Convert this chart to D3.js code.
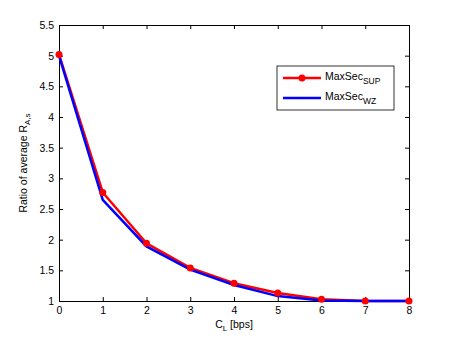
<!DOCTYPE html>
<html>
<head>
<meta charset="utf-8">
<script src="https://cdn.jsdelivr.net/npm/d3@7"></script>
<style>
    body { margin: 0; background: #fff; }
    svg text { font-family: "Liberation Sans", Arial, sans-serif; font-size: 10.5px; fill: #000; }
</style>
</head>
<body>
<div id="chart"></div>
<script>
const xValues = [0, 1, 2, 3, 4, 5, 6, 7, 8];
const supValues = [5.02, 2.77, 1.94, 1.54, 1.29, 1.13, 1.03, 1.0, 1.0];
const wzValues = [5.0, 2.65, 1.89, 1.51, 1.26, 1.08, 1.01, 1.0, 1.0];
const xTicks = [0, 1, 2, 3, 4, 5, 6, 7, 8];
const yTicks = [1, 1.5, 2, 2.5, 3, 3.5, 4, 4.5, 5, 5.5];

const margin = { top: 25, right: 43, bottom: 39, left: 59 };
const width = 452 - margin.left - margin.right;
const height = 340 - margin.top - margin.bottom;

const svg = d3.select("#chart")
    .append("svg")
    .attr("width", 452)
    .attr("height", 340)
    .append("g")
    .attr("transform", `translate(${margin.left},${margin.top})`);

const xScale = d3.scaleLinear().domain([0, 8]).range([0, width]);
const yScale = d3.scaleLinear().domain([1, 5.5]).range([height, 0]);

// axes with inward ticks, MATLAB style
function styleAxis(g) {
    g.select(".domain").attr("stroke", "#000").attr("stroke-width", 1);
    g.selectAll(".tick line").attr("stroke", "#000");
    g.selectAll("text").style("font-size", "10.5px").style("font-family", "Liberation Sans, Arial, sans-serif");
}

svg.append("g")
    .attr("transform", `translate(0,${height})`)
    .call(d3.axisBottom(xScale).tickValues(xTicks).tickSizeInner(-4).tickSizeOuter(0).tickPadding(6).tickFormat(d => d))
    .call(styleAxis);

svg.append("g")
    .call(d3.axisLeft(yScale).tickValues(yTicks).tickSizeInner(-4).tickSizeOuter(0).tickPadding(5).tickFormat(d => d))
    .call(styleAxis);

svg.append("g")
    .call(d3.axisTop(xScale).tickValues(xTicks).tickSizeInner(-4).tickSizeOuter(0).tickFormat(""))
    .call(styleAxis);

svg.append("g")
    .attr("transform", `translate(${width},0)`)
    .call(d3.axisRight(yScale).tickValues(yTicks).tickSizeInner(-4).tickSizeOuter(0).tickFormat(""))
    .call(styleAxis);

// axis labels
const xLabel = svg.append("text")
    .attr("x", width / 2)
    .attr("y", height + 27)
    .attr("text-anchor", "middle");
xLabel.append("tspan").text("C");
xLabel.append("tspan").attr("dy", 3).style("font-size", "8px").text("L");
xLabel.append("tspan").attr("dy", -3).text(" [bps]");

const yLabel = svg.append("text")
    .attr("transform", "rotate(-90)")
    .attr("x", -height / 2)
    .attr("y", -32)
    .attr("text-anchor", "middle");
yLabel.append("tspan").text("Ratio of average R");
yLabel.append("tspan").attr("dy", 3).style("font-size", "8px").text("A,s");

const supData = xValues.map((x, i) => ({ x: x, y: supValues[i] }));
const wzData = xValues.map((x, i) => ({ x: x, y: wzValues[i] }));

const line = d3.line()
    .x(d => xScale(d.x))
    .y(d => yScale(d.y));

svg.append("path")
    .datum(supData)
    .attr("d", line)
    .attr("fill", "none")
    .attr("stroke", "#ff0000")
    .attr("stroke-width", 2.5);

svg.append("path")
    .datum(wzData)
    .attr("d", line)
    .attr("fill", "none")
    .attr("stroke", "#0000ff")
    .attr("stroke-width", 2.5);

svg.selectAll(".point")
    .data(supData)
    .enter()
    .append("circle")
    .attr("class", "point")
    .attr("cx", d => xScale(d.x))
    .attr("cy", d => yScale(d.y))
    .attr("r", 3.5)
    .attr("fill", "#ff0000");

// legend
const legend = svg.append("g").attr("transform", "translate(218,41)");
legend.append("rect")
    .attr("width", 117)
    .attr("height", 44)
    .attr("fill", "#fff")
    .attr("stroke", "#000")
    .attr("stroke-width", 0.8);

const legendItems = [
    { name: "MaxSec", sub: "SUP", color: "#ff0000", marker: true, y: 12 },
    { name: "MaxSec", sub: "WZ", color: "#0000ff", marker: false, y: 32 }
];

legendItems.forEach(item => {
    legend.append("line")
        .attr("x1", 6).attr("x2", 44)
        .attr("y1", item.y).attr("y2", item.y)
        .attr("stroke", item.color)
        .attr("stroke-width", 2.5);
    if (item.marker) {
        legend.append("circle")
            .attr("cx", 25).attr("cy", item.y).attr("r", 3.5)
            .attr("fill", item.color);
    }
    const t = legend.append("text").attr("x", 48).attr("y", item.y + 2);
    t.append("tspan").text(item.name);
    t.append("tspan").attr("dy", 4).style("font-size", "8.5px").text(item.sub);
});
</script>
</body>
</html>
